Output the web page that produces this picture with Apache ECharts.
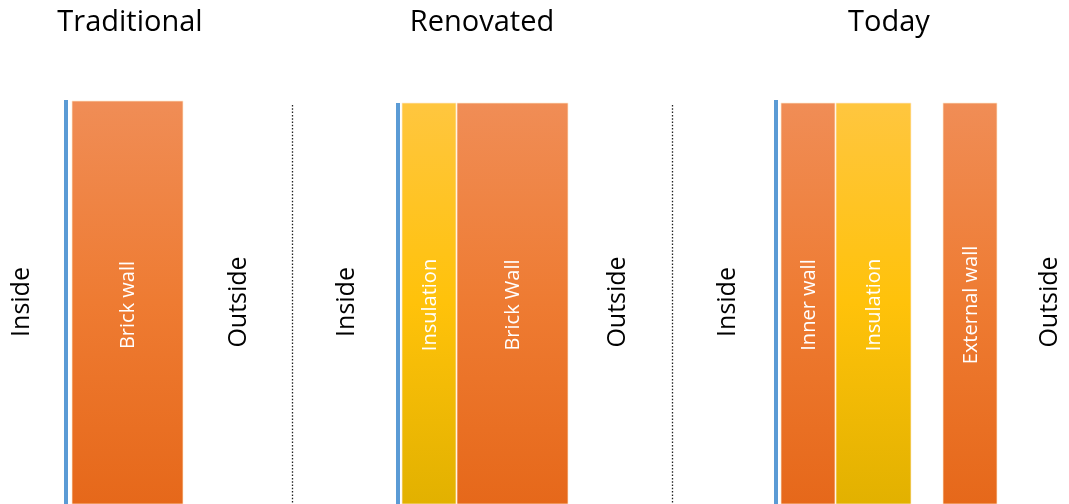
<!DOCTYPE html>
<html>
<head>
<meta charset="utf-8">
<script src="https://cdn.jsdelivr.net/npm/echarts@6/dist/echarts.min.js"></script>
<style>html,body{margin:0;padding:0;background:#fff}#c{width:1069px;height:504px}</style>
</head>
<body>
<div id="c"></div>
<script>
// ---- data ----
const panelTitles = ['Traditional', 'Renovated', 'Today'];
const panelTitleX = [130, 482, 889];
const insideLabelX = [22, 347, 728];
const outsideLabelX = [239, 618, 1050];
const dividerX = [292, 672];
const membraneX = [66, 398, 776];
const membraneTop = [100, 103, 100];
const layerNames = ['Brick wall', 'Insulation', 'Brick Wall', 'Inner wall', 'Insulation', 'External wall'];
const layerStart = [72, 402, 457, 781, 836, 943];
const layerEnd = [183, 456, 568, 835, 911, 997];
const layerTop = [101, 103, 103, 103, 103, 103];
const layerMaterial = ['brick', 'insulation', 'brick', 'brick', 'insulation', 'brick'];
const wallBottom = 504;
const sideLabelY = 302;
const layerLabelY = 305;
const titleY = 23;

const materialColors = {
  brick: ['#F08D56', '#EE7B32', '#E6681A'],
  insulation: ['#FFC63F', '#FFC20A', '#E2B100']
};
const FONT = '"Open Sans", "Liberation Sans", sans-serif';

const chart = echarts.init(document.getElementById('c'), null, {renderer: 'canvas'});

const layerData = layerNames.map((n, i) => [layerStart[i], layerEnd[i], layerTop[i], i]);
const membraneData = membraneX.map((x, i) => [x, membraneTop[i]]);
const dividerData = dividerX.map(x => [x, 105]);
const sideLabels = [];
insideLabelX.forEach(x => sideLabels.push([x, sideLabelY, 'Inside']));
outsideLabelX.forEach(x => sideLabels.push([x, sideLabelY, 'Outside']));
const titleData = panelTitles.map((t, i) => [panelTitleX[i], titleY, t]);

chart.setOption({
  animation: false,
  grid: {left: 0, right: 0, top: 0, bottom: 0},
  xAxis: {type: 'value', min: 0, max: 1069, show: false},
  yAxis: {type: 'value', min: 0, max: 504, inverse: true, show: false},
  series: [
    {
      type: 'custom',
      data: layerData,
      renderItem: function (params, api) {
        const i = api.value(3);
        const p0 = api.coord([api.value(0), api.value(2)]);
        const p1 = api.coord([api.value(1), wallBottom]);
        const cols = materialColors[layerMaterial[i]];
        return {
          type: 'group',
          children: [
            {
              type: 'rect',
              shape: {x: p0[0], y: p0[1], width: p1[0] - p0[0], height: p1[1] - p0[1]},
              style: {
                fill: new echarts.graphic.LinearGradient(0, 0, 0, 1, [
                  {offset: 0, color: cols[0]},
                  {offset: 0.5, color: cols[1]},
                  {offset: 1, color: cols[2]}
                ]),
                stroke: 'rgba(255,235,210,0.7)',
                lineWidth: 1
              }
            },
            {
              type: 'text',
              x: (p0[0] + p1[0]) / 2 + 1,
              y: api.coord([0, layerLabelY])[1],
              rotation: Math.PI / 2,
              style: {
                text: layerNames[i],
                fill: '#fff',
                font: '20px ' + FONT,
                align: 'center',
                verticalAlign: 'middle'
              }
            }
          ]
        };
      }
    },
    {
      type: 'custom',
      data: membraneData,
      renderItem: function (params, api) {
        const p0 = api.coord([api.value(0), api.value(1)]);
        const p1 = api.coord([api.value(0), wallBottom]);
        return {
          type: 'rect',
          shape: {x: p0[0] - 2, y: p0[1], width: 4, height: p1[1] - p0[1]},
          style: {fill: '#5B9BD5'}
        };
      }
    },
    {
      type: 'custom',
      data: dividerData,
      renderItem: function (params, api) {
        const p0 = api.coord([api.value(0), api.value(1)]);
        const p1 = api.coord([api.value(0), wallBottom]);
        return {
          type: 'line',
          shape: {x1: p0[0] + 0.5, y1: p0[1], x2: p1[0] + 0.5, y2: p1[1]},
          style: {stroke: '#222', lineWidth: 1.3, lineDash: [1.5, 1.8]}
        };
      }
    },
    {
      type: 'custom',
      data: sideLabels,
      renderItem: function (params, api) {
        const p = api.coord([api.value(0), api.value(1)]);
        return {
          type: 'text',
          x: p[0],
          y: p[1],
          rotation: Math.PI / 2,
          style: {
            text: sideLabels[params.dataIndex][2],
            fill: '#000',
            font: '25px ' + FONT,
            align: 'center',
            verticalAlign: 'middle'
          }
        };
      }
    },
    {
      type: 'custom',
      data: titleData,
      renderItem: function (params, api) {
        const p = api.coord([api.value(0), api.value(1)]);
        return {
          type: 'text',
          x: p[0],
          y: p[1],
          style: {
            text: titleData[params.dataIndex][2],
            fill: '#000',
            font: '29px ' + FONT,
            align: 'center',
            verticalAlign: 'middle'
          }
        };
      }
    }
  ]
});
</script>
</body>
</html>
